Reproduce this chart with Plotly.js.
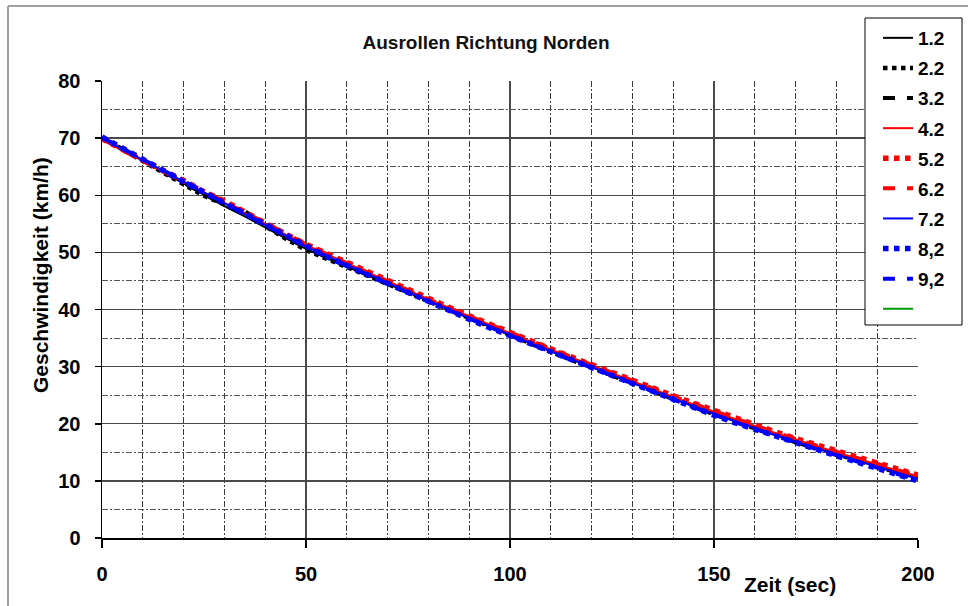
<!DOCTYPE html>
<html>
<head>
<meta charset="utf-8">
<script src="https://cdn.plot.ly/plotly-3.0.1.min.js"></script>
<style>html,body{margin:0;padding:0;background:#fff;}#chart{width:968px;height:606px;}</style>
</head>
<body>
<div id="chart"></div>
<script>
// ---- data ----
const zeit = [0,5,10,15,20,25,30,35,40,45,50,55,60,65,70,75,80,85,90,95,100,105,110,115,120,125,130,135,140,145,150,155,160,165,170,175,180,185,190,195,200];

const names = ['1.2','2.2','3.2','4.2','5.2','6.2','7.2','8,2','9,2',' '];

const s12 = [70.0,68.0,66.0,64.0,62.0,60.0,58.1,56.3,54.4,52.5,50.6,49.0,47.5,45.9,44.4,42.9,41.4,39.9,38.4,37.0,35.5,34.1,32.7,31.3,29.9,28.5,27.1,25.8,24.4,23.1,21.8,20.5,19.3,18.1,16.9,15.8,14.7,13.6,12.5,11.5,10.5];
const s22 = [70.1,68.0,65.9,63.9,61.9,59.9,58.4,57.2,54.6,52.4,50.4,48.9,47.4,45.9,44.4,42.9,41.4,39.9,38.4,36.9,35.5,34.0,32.6,31.2,29.8,28.4,27.0,25.7,24.3,23.0,21.7,20.4,19.2,18.0,16.8,15.7,14.6,13.5,12.4,11.4,10.4];
const s32 = [70.0,68.1,66.1,64.1,62.2,60.2,58.3,56.6,54.6,52.7,50.8,49.2,47.6,46.0,44.5,43.0,41.4,39.9,38.5,37.0,35.6,34.1,32.7,31.3,29.9,28.5,27.1,25.7,24.3,23.0,21.7,20.4,19.2,18.0,16.8,15.7,14.6,13.5,12.5,11.4,10.4];
const s42 = [69.8,67.9,66.0,64.1,62.3,60.5,58.7,56.9,55.0,53.1,51.3,49.7,48.1,46.5,44.9,43.3,41.8,40.3,38.8,37.3,35.9,34.4,33.0,31.6,30.2,28.8,27.4,26.0,24.7,23.4,22.1,20.8,19.6,18.4,17.2,16.1,15.0,13.9,12.8,11.8,10.8];
const s52 = [69.9,68.0,66.1,64.3,62.6,60.6,59.0,57.0,55.1,53.2,51.4,49.8,48.2,46.6,45.0,43.4,41.9,40.4,38.9,37.4,36.0,34.5,33.1,31.7,30.3,28.9,27.5,26.2,24.9,23.6,22.3,21.0,19.8,18.6,17.4,16.3,15.2,14.1,13.0,12.0,11.0];
const s62 = [69.9,67.9,66.0,64.2,62.4,60.8,58.8,56.9,55.2,53.2,51.4,49.7,48.1,46.5,44.9,43.3,41.8,40.3,38.8,37.4,36.0,34.5,33.1,31.7,30.3,28.9,27.5,26.1,24.8,23.5,22.2,20.9,19.7,18.5,17.3,16.2,15.1,14.0,12.9,11.9,10.9];
const s72 = [70.0,68.1,66.2,64.3,62.4,60.5,58.6,56.7,54.8,52.9,51.0,49.4,47.8,46.2,44.6,43.0,41.5,40.0,38.5,37.0,35.6,34.1,32.7,31.3,29.9,28.5,27.1,25.7,24.3,23.0,21.7,20.4,19.2,18.0,16.8,15.7,14.6,13.5,12.4,11.3,10.3];
const s82 = [70.2,68.2,66.3,64.3,62.4,60.5,58.6,56.7,54.8,52.9,51.0,49.3,47.7,46.1,44.5,42.9,41.3,39.8,38.3,36.8,35.4,33.9,32.5,31.1,29.7,28.3,26.9,25.5,24.1,22.8,21.5,20.2,19.0,17.8,16.6,15.5,14.4,13.3,12.2,11.1,10.0];
const s92 = [70.1,68.2,66.2,64.3,62.4,60.5,58.6,56.7,54.8,52.9,51.0,49.3,47.7,46.1,44.5,43.0,41.4,39.9,38.4,36.9,35.5,34.0,32.6,31.2,29.8,28.4,27.0,25.6,24.2,22.9,21.6,20.3,19.1,17.9,16.7,15.6,14.5,13.4,12.3,11.2,10.1];
const leerX = [null];
const leerY = [null];

const xTicks = [0,50,100,150,200];
const yTicks = [0,10,20,30,40,50,60,70,80];

// ---- styles ----
const styles = [
  {color:'#000000', width:2,   dash:'solid'},
  {color:'#000000', width:4.5, dash:'dot'},
  {color:'#000000', width:4,   dash:'dash'},
  {color:'#ff0000', width:2,   dash:'solid'},
  {color:'#ff0000', width:5.5, dash:'dot'},
  {color:'#ff0000', width:4,   dash:'dash'},
  {color:'#0000ff', width:2,   dash:'solid'},
  {color:'#0000ff', width:5.5, dash:'dot'},
  {color:'#0000ff', width:4,   dash:'dash'},
  {color:'#009900', width:2,   dash:'solid'}
];
const series = [s12,s22,s32,s42,s52,s62,s72,s82,s92,leerY];

const traces = series.map((ys,i) => ({
  type:'scatter', mode:'lines',
  x: i === 9 ? leerX : zeit,
  y: ys,
  name: names[i],
  legendgroup: 'g'+i,
  line: styles[i],
  showlegend: true
}));

// pixel helpers for paper coords (plot area 102..918 x, 81..538 y)
const L=102, R=918, T=81, B=538;
const px = v => (v-L)/(R-L);
const py = v => (B-v)/(B-T);

const gridCol = '#4a4a4a';

const layout = {
  width:968, height:606,
  margin:{l:L, r:968-R, t:T, b:606-B, pad:0},
  paper_bgcolor:'#ffffff', plot_bgcolor:'#ffffff',
  font:{family:'Liberation Sans, Arial, sans-serif', color:'#000000'},
  title:{text:'Ausrollen Richtung Norden', x:486/968, xanchor:'center', xref:'container',
         y:1-42/606, yanchor:'middle', yref:'container',
         font:{size:19, weight:'bold', color:'#111'}},
  xaxis:{
    range:[0,200], tickvals:xTicks, ticktext:xTicks.map(String),
    ticks:'outside', ticklen:8, tickwidth:1.5, tickcolor:'#000',
    showline:true, linecolor:'#000', linewidth:1.5,
    showgrid:true, gridcolor:gridCol, gridwidth:1.3,
    zeroline:false, tickfont:{size:20, weight:'bold'}, ticklabelstandoff:9,
    minor:{dtick:10, tick0:0, showgrid:true, gridcolor:'#3a3a3a', gridwidth:1.2, griddash:'6px,2px,2px,2px', ticks:''}
  },
  yaxis:{
    range:[0,80], tickvals:yTicks, ticktext:yTicks.map(String),
    ticks:'outside', ticklen:6, tickwidth:1.5, tickcolor:'#000',
    showline:true, linecolor:'#000', linewidth:1.5,
    showgrid:true, gridcolor:gridCol, gridwidth:1.3,
    zeroline:false, tickfont:{size:20, weight:'bold'}, ticklabelstandoff:10,
    minor:{dtick:5, tick0:0, showgrid:true, gridcolor:'#555555', gridwidth:1.1, griddash:'6px,2px,2px,2px', ticks:''}
  },
  showlegend:true,
  legend:{
    x:px(878), y:py(19), xanchor:'left', yanchor:'top',
    xref:'paper', yref:'paper',
    bgcolor:'rgba(0,0,0,0)', borderwidth:0,
    font:{size:19, weight:'bold'}, tracegroupgap:2.4, traceorder:'grouped'
  },
  shapes:[
    // legend frame
    {type:'rect', xref:'paper', yref:'paper', x0:px(865), x1:px(962), y0:py(325), y1:py(18),
     line:{color:'#000', width:1}, fillcolor:'#ffffff', layer:'above'},
    // outer chart frame (left and top edges)
    {type:'line', xref:'paper', yref:'paper', x0:px(8), x1:px(8), y0:py(606), y1:py(6),
     line:{color:'#a0a0a0', width:2}},
    {type:'line', xref:'paper', yref:'paper', x0:px(8), x1:px(968), y0:py(6), y1:py(6),
     line:{color:'#a0a0a0', width:2}}
  ],
  annotations:[
    {text:'Zeit (sec)', xref:'paper', yref:'paper', x:px(790), y:py(584),
     xanchor:'center', yanchor:'middle', showarrow:false, font:{size:21, weight:'bold'}},
    {text:'Geschwindigkeit (km/h)', xref:'paper', yref:'paper', x:px(40), y:py(275),
     xanchor:'center', yanchor:'middle', textangle:-90, showarrow:false, font:{size:21, weight:'bold'}}
  ]
};

Plotly.newPlot('chart', traces, layout, {staticPlot:true, displayModeBar:false});
</script>
</body>
</html>
